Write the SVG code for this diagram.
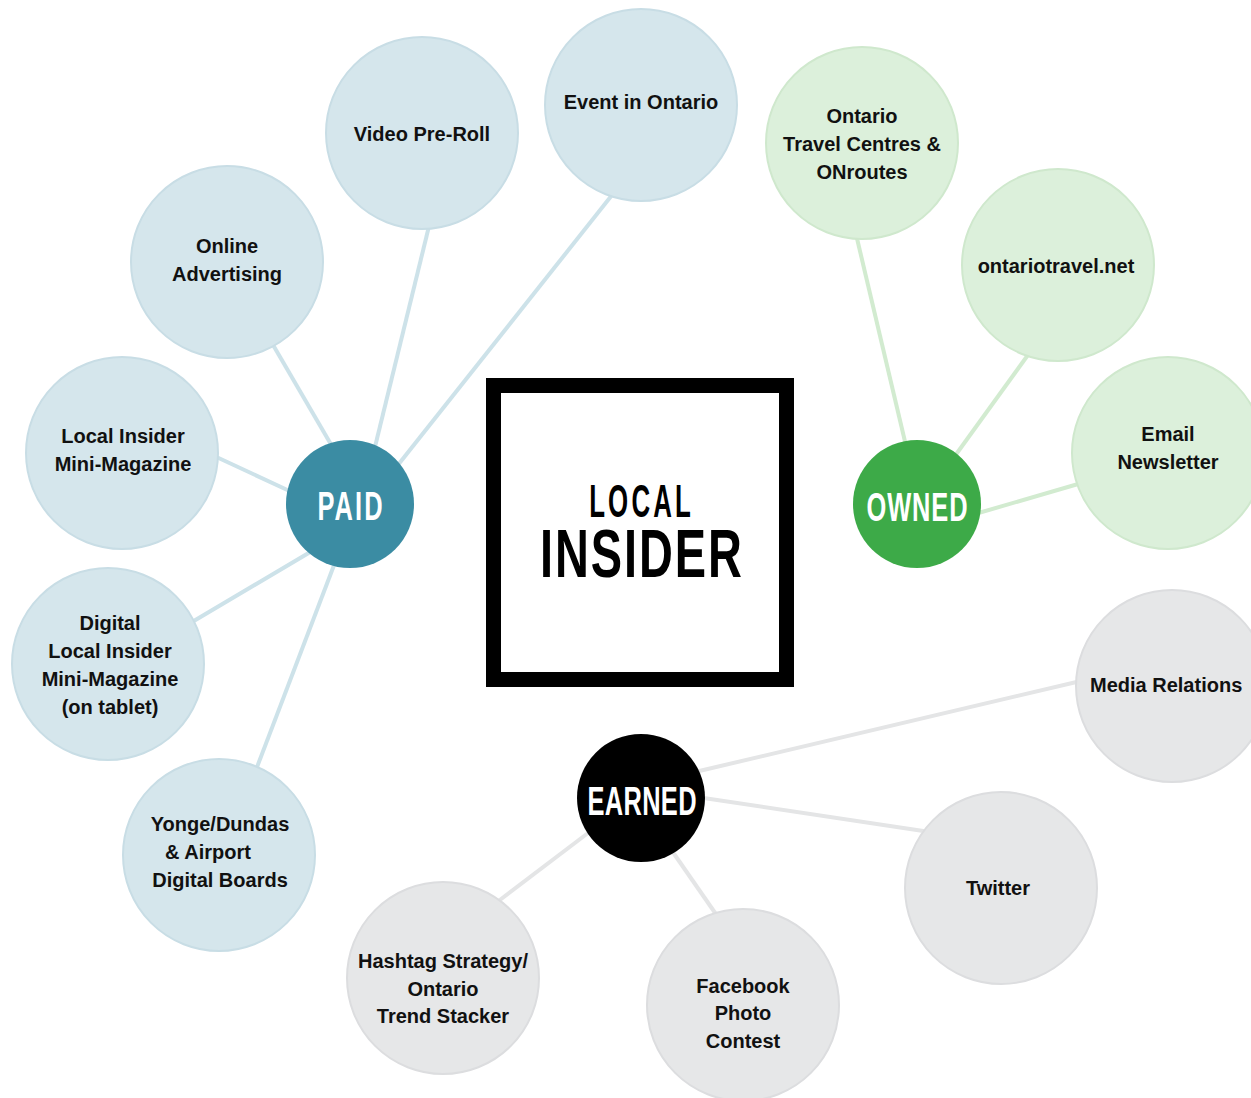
<svg xmlns="http://www.w3.org/2000/svg" width="1251" height="1098" viewBox="0 0 1251 1098">
  <style>
    .lbl { font-family: "Liberation Sans", Arial, sans-serif; font-weight: bold; font-size: 20px; fill: #111; text-anchor: middle; }
    .hub { font-family: "Liberation Sans", Arial, sans-serif; font-weight: bold; font-size: 41px; fill: #fff; text-anchor: middle; }
    .title { font-family: "Liberation Sans", Arial, sans-serif; font-weight: bold; fill: #000; text-anchor: middle; }
    .paid-c { fill: #d5e6ec; stroke: #c8dde5; stroke-width: 2; }
    .owned-c { fill: #dcf0db; stroke: #cfe8cd; stroke-width: 2; }
    .earned-c { fill: #e6e7e8; stroke: #dcdddf; stroke-width: 2; }
    .paid-l { stroke: #cde2e9; stroke-width: 4; }
    .owned-l { stroke: #d2ebd0; stroke-width: 4; }
    .earned-l { stroke: #e4e5e6; stroke-width: 4; }
  </style>
  <rect width="1251" height="1098" fill="#fff"/>

  <g id="connectors" fill="none" stroke-linecap="butt">
    <!-- paid spokes -->
    <line class="paid-l" x1="336" y1="453" x2="269" y2="338"/>
    <line class="paid-l" x1="373" y1="455" x2="431" y2="218"/>
    <line class="paid-l" x1="394" y1="470" x2="616" y2="190"/>
    <line class="paid-l" x1="296" y1="494" x2="210" y2="454"/>
    <line class="paid-l" x1="312" y1="551" x2="187" y2="625"/>
    <line class="paid-l" x1="336" y1="560" x2="254" y2="775"/>
    <!-- owned spokes -->
    <line class="owned-l" x1="907" y1="450" x2="855" y2="230"/>
    <line class="owned-l" x1="952" y1="460" x2="1033" y2="348"/>
    <line class="owned-l" x1="975" y1="514" x2="1085" y2="482"/>
    <!-- earned spokes -->
    <line class="earned-l" x1="695" y1="772" x2="1085" y2="680"/>
    <line class="earned-l" x1="697" y1="797" x2="930" y2="832"/>
    <line class="earned-l" x1="670" y1="848" x2="720" y2="920"/>
    <line class="earned-l" x1="592" y1="830" x2="492" y2="906"/>
  </g>

  <!-- centre logo: condensed lettering via horizontal scale -->
  <g id="local-insider">
    <rect x="493.5" y="385.5" width="293" height="294" fill="#fff" stroke="#000" stroke-width="15"/>
    <text class="title" transform="translate(640 517) scale(0.55 1)" font-size="47" textLength="185" lengthAdjust="spacing">LOCAL</text>
    <text class="title" transform="translate(641 577) scale(0.68 1)" font-size="69" textLength="297" lengthAdjust="spacing">INSIDER</text>
  </g>

  <!-- hubs -->
  <g id="paid">
    <circle cx="350" cy="504" r="64" fill="#3b8ca3"/>
    <text class="hub" transform="translate(350 520) scale(0.62 1)" textLength="105" lengthAdjust="spacing">PAID</text>
  </g>
  <g id="owned">
    <circle cx="917" cy="504" r="64" fill="#3daa48"/>
    <text class="hub" transform="translate(917 521) scale(0.62 1)" textLength="163" lengthAdjust="spacing">OWNED</text>
  </g>
  <g id="earned">
    <circle cx="641" cy="798" r="64" fill="#000"/>
    <text class="hub" transform="translate(642 815) scale(0.62 1)" textLength="176" lengthAdjust="spacing">EARNED</text>
  </g>

  <!-- paid channels -->
  <g id="online-advertising">
    <circle class="paid-c" cx="227" cy="262" r="96"/>
    <text class="lbl" x="227" y="253">Online</text>
    <text class="lbl" x="227" y="281">Advertising</text>
  </g>
  <g id="video-pre-roll">
    <circle class="paid-c" cx="422" cy="133" r="96"/>
    <text class="lbl" x="422" y="141">Video Pre-Roll</text>
  </g>
  <g id="event-in-ontario">
    <circle class="paid-c" cx="641" cy="105" r="96"/>
    <text class="lbl" x="641" y="109">Event in Ontario</text>
  </g>
  <g id="local-insider-mini-magazine">
    <circle class="paid-c" cx="122" cy="453" r="96"/>
    <text class="lbl" x="123" y="443">Local Insider</text>
    <text class="lbl" x="123" y="471">Mini-Magazine</text>
  </g>
  <g id="digital-mini-magazine">
    <circle class="paid-c" cx="108" cy="664" r="96"/>
    <text class="lbl" x="110" y="630">Digital</text>
    <text class="lbl" x="110" y="658">Local Insider</text>
    <text class="lbl" x="110" y="686">Mini-Magazine</text>
    <text class="lbl" x="110" y="714">(on tablet)</text>
  </g>
  <g id="digital-boards">
    <circle class="paid-c" cx="219" cy="855" r="96"/>
    <text class="lbl" x="220" y="831">Yonge/Dundas</text>
    <text class="lbl" x="208" y="859">&amp; Airport</text>
    <text class="lbl" x="220" y="887">Digital Boards</text>
  </g>

  <!-- owned channels -->
  <g id="travel-centres">
    <circle class="owned-c" cx="862" cy="143" r="96"/>
    <text class="lbl" x="862" y="123">Ontario</text>
    <text class="lbl" x="862" y="151">Travel Centres &amp;</text>
    <text class="lbl" x="862" y="179">ONroutes</text>
  </g>
  <g id="ontariotravel-net">
    <circle class="owned-c" cx="1058" cy="265" r="96"/>
    <text class="lbl" x="1056" y="273">ontariotravel.net</text>
  </g>
  <g id="email-newsletter">
    <circle class="owned-c" cx="1168" cy="453" r="96"/>
    <text class="lbl" x="1168" y="441">Email</text>
    <text class="lbl" x="1168" y="469">Newsletter</text>
  </g>

  <!-- earned channels -->
  <g id="media-relations">
    <circle class="earned-c" cx="1172" cy="686" r="96"/>
    <text class="lbl" x="1090" y="692" style="text-anchor:start">Media Relations</text>
  </g>
  <g id="twitter">
    <circle class="earned-c" cx="1001" cy="888" r="96"/>
    <text class="lbl" x="998" y="895">Twitter</text>
  </g>
  <g id="facebook-contest">
    <circle class="earned-c" cx="743" cy="1005" r="96"/>
    <text class="lbl" x="743" y="993">Facebook</text>
    <text class="lbl" x="743" y="1020">Photo</text>
    <text class="lbl" x="743" y="1048">Contest</text>
  </g>
  <g id="hashtag-strategy">
    <circle class="earned-c" cx="443" cy="978" r="96"/>
    <text class="lbl" x="443" y="968">Hashtag Strategy/</text>
    <text class="lbl" x="443" y="996">Ontario</text>
    <text class="lbl" x="443" y="1023">Trend Stacker</text>
  </g>
</svg>
